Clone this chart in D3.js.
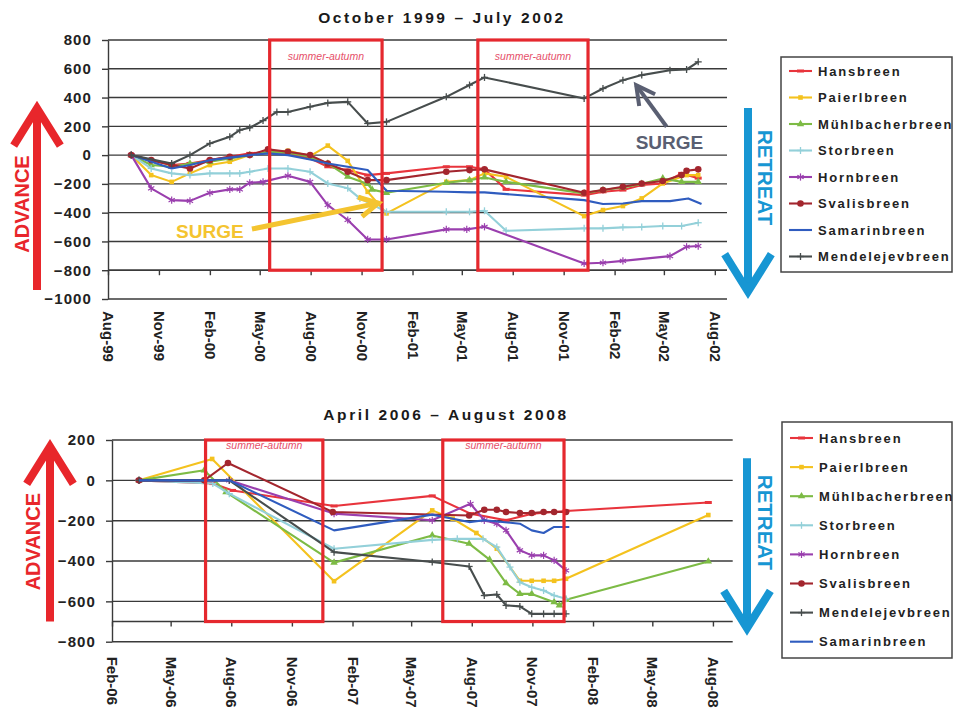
<!DOCTYPE html>
<html>
<head>
<meta charset="utf-8">
<script src="https://cdn.jsdelivr.net/npm/d3@7"></script>
<style>
body { margin: 0; background: #fff; }
svg { display: block; font-family: "Liberation Sans", Arial, sans-serif; }
</style>
</head>
<body>
<svg id="chart" width="955" height="710"></svg>
<script>
let parseDay = d3.timeParse("%Y-%m-%d");
let parseTick = d3.timeParse("%b-%y");

// ---- October 1999 - July 2002 ----
const hans99 = [["1999-09-12",0],["1999-10-18",-35],["1999-11-24",-69],["1999-12-27",-58],["2000-02-01",-35],["2000-03-08",-12],["2000-04-13",12],["2000-05-16",23],["2000-06-21",12],["2000-07-31",-23],["2000-09-01",-81],["2000-10-07",-104],["2000-11-12",-139],["2000-12-16",-127],["2001-04-03",-81],["2001-05-15",-81],["2001-06-11",-99],["2001-07-20",-238],["2001-12-08",-278],["2002-01-11",-255],["2002-02-16",-243],["2002-03-22",-208],["2002-04-29",-197],["2002-06-02",-127],["2002-07-02",-160]];
const paier99 = [["1999-09-12",0],["1999-10-18",-139],["1999-11-24",-186],["1999-12-27",-127],["2000-02-01",-69],["2000-03-08",-46],["2000-04-13",0],["2000-05-16",23],["2000-06-21",30],["2000-07-31",-7],["2000-09-01",66],["2000-10-07",-40],["2000-11-12",-255],["2000-12-16",-405],["2001-04-03",-186],["2001-05-15",-174],["2001-06-11",-127],["2001-07-20",-151],["2001-12-08",-424],["2002-01-11",-382],["2002-02-16",-354],["2002-03-22",-301],["2002-04-29",-197],["2002-06-11",-139],["2002-07-02",-139]];
const muhl99 = [["1999-09-12",0],["1999-10-18",-69],["1999-11-24",-81],["1999-12-27",-58],["2000-02-01",-46],["2000-03-08",-23],["2000-04-13",0],["2000-05-16",23],["2000-06-21",16],["2000-07-31",-12],["2000-09-01",-58],["2000-10-07",-150],["2000-11-12",-200],["2000-11-20",-240],["2000-12-16",-262],["2001-04-03",-192],["2001-05-15",-174],["2001-06-11",-155],["2001-07-20",-186],["2001-12-08",-266],["2002-01-11",-243],["2002-02-16",-225],["2002-03-22",-200],["2002-04-29",-162],["2002-06-02",-186],["2002-07-02",-186]];
const stor99 = [["1999-09-12",0],["1999-10-18",-93],["1999-11-24",-127],["1999-12-27",-139],["2000-02-01",-127],["2000-03-08",-127],["2000-03-26",-127],["2000-04-13",-116],["2000-05-16",-93],["2000-06-21",-93],["2000-07-31",-116],["2000-09-01",-197],["2000-10-07",-231],["2000-10-29",-301],["2000-12-16",-394],["2001-04-03",-394],["2001-05-15",-394],["2001-06-11",-387],["2001-07-20",-526],["2001-12-08",-509],["2002-01-11",-509],["2002-02-16",-502],["2002-03-22",-500],["2002-04-29",-493],["2002-06-02",-493],["2002-07-02",-470]];
const horn99 = [["1999-09-12",0],["1999-10-18",-231],["1999-11-24",-313],["1999-12-27",-318],["2000-02-01",-262],["2000-03-08",-238],["2000-03-26",-238],["2000-04-13",-192],["2000-05-07",-186],["2000-06-21",-144],["2000-07-31",-186],["2000-09-01",-347],["2000-10-07",-451],["2000-11-12",-586],["2000-12-16",-586],["2001-04-03",-516],["2001-05-10",-516],["2001-06-11",-498],["2001-12-08",-753],["2002-01-11",-748],["2002-02-16",-735],["2002-05-12",-702],["2002-06-11",-637],["2002-07-02",-632]];
const sval99 = [["1999-09-12",0],["1999-10-18",-35],["1999-11-24",-69],["1999-12-27",-93],["2000-02-01",-35],["2000-03-08",-12],["2000-04-13",0],["2000-05-16",40],["2000-06-21",23],["2000-07-31",0],["2000-09-01",-58],["2000-10-07",-116],["2000-11-12",-174],["2000-12-16",-174],["2001-04-03",-116],["2001-05-15",-104],["2001-06-11",-99],["2001-12-08",-262],["2002-01-11",-243],["2002-02-16",-220],["2002-03-22",-197],["2002-04-29",-180],["2002-06-02",-139],["2002-06-11",-109],["2002-07-02",-99]];
const samar99 = [["1999-09-12",0],["1999-11-24",-93],["1999-12-27",-69],["2000-02-01",-35],["2000-04-13",0],["2000-05-16",12],["2000-06-21",0],["2000-07-31",-30],["2000-09-01",-58],["2000-10-07",-81],["2000-11-12",-104],["2000-12-16",-248],["2001-04-03",-255],["2001-05-15",-259],["2001-06-11",-259],["2001-12-08",-313],["2002-01-11",-340],["2002-02-16",-336],["2002-03-22",-320],["2002-05-12",-320],["2002-06-14",-301],["2002-07-08",-340]];
const mend99 = [["1999-09-12",0],["1999-11-24",-58],["1999-12-27",0],["2000-02-01",81],["2000-03-08",127],["2000-03-26",174],["2000-04-13",190],["2000-05-07",240],["2000-06-01",300],["2000-06-21",300],["2000-07-31",336],["2000-09-01",363],["2000-10-07",370],["2000-11-12",220],["2000-12-16",231],["2001-04-03",405],["2001-05-15",487],["2001-06-11",540],["2001-12-08",394],["2002-01-11",463],["2002-02-16",521],["2002-03-22",556],["2002-05-12",590],["2002-06-11",595],["2002-07-02",648]];

const names99 = ["Hansbreen","Paierlbreen","Mühlbacherbreen","Storbreen","Hornbreen","Svalisbreen","Samarinbreen","Mendelejevbreen"];
const series99 = [hans99, paier99, muhl99, stor99, horn99, sval99, samar99, mend99];
const ticks99 = ["Aug-99","Nov-99","Feb-00","May-00","Aug-00","Nov-00","Feb-01","May-01","Aug-01","Nov-01","Feb-02","May-02","Aug-02"];
const yTicks99 = [800, 600, 400, 200, 0, -200, -400, -600, -800, -1000];
const seasons99 = [["2000-05-19","2000-12-08"], ["2001-05-30","2001-12-15"]];

// ---- April 2006 - August 2008 ----
const hans06 = [["2006-03-14",0],["2006-07-04",-16],["2006-08-03",-50],["2007-01-04",-127],["2007-06-02",-77],["2007-07-30",-165],["2007-09-22",-198],["2007-11-01",-165],["2007-12-22",-152],["2008-07-25",-110]];
const paier06 = [["2006-03-14",0],["2006-07-03",106],["2007-01-04",-500],["2007-06-02",-149],["2007-07-03",-190],["2007-08-08",-261],["2007-09-08",-339],["2007-10-13",-498],["2007-10-31",-498],["2007-11-18",-498],["2007-12-04",-498],["2007-12-22",-488],["2008-07-25",-172]];
const muhl06 = [["2006-03-14",0],["2006-06-21",50],["2006-07-24",-58],["2007-01-04",-408],["2007-06-02",-273],["2007-07-28",-314],["2007-08-28",-393],["2007-09-22",-510],["2007-10-13",-563],["2007-10-31",-563],["2007-12-04",-604],["2007-12-12",-620],["2007-12-22",-592],["2008-07-25",-402]];
const stor06 = [["2006-03-14",0],["2006-07-04",-16],["2006-07-29",-66],["2007-01-04",-339],["2007-06-02",-295],["2007-07-10",-290],["2007-08-18",-290],["2007-09-08",-331],["2007-09-28",-430],["2007-10-13",-505],["2007-10-31",-530],["2007-11-18",-546],["2007-12-04",-571],["2007-12-22",-587]];
const horn06 = [["2006-03-14",0],["2006-07-29",0],["2007-01-04",-165],["2007-06-02",-198],["2007-07-30",-116],["2007-08-20",-198],["2007-09-08",-215],["2007-09-22",-248],["2007-10-13",-347],["2007-10-31",-372],["2007-11-18",-372],["2007-12-04",-397],["2007-12-22",-447]];
const sval06 = [["2006-03-14",0],["2006-06-21",0],["2006-07-27",86],["2007-01-02",-157],["2007-07-28",-174],["2007-08-20",-146],["2007-09-08",-146],["2007-09-22",-157],["2007-10-13",-162],["2007-10-31",-162],["2007-11-18",-157],["2007-12-04",-157],["2007-12-22",-157]];
const mend06 = [["2006-03-14",0],["2006-07-29",0],["2007-01-04",-356],["2007-06-02",-405],["2007-07-28",-427],["2007-08-20",-571],["2007-09-08",-566],["2007-09-22",-620],["2007-10-13",-625],["2007-10-31",-662],["2007-11-18",-662],["2007-12-04",-662],["2007-12-22",-662]];
const samar06 = [["2006-03-14",0],["2006-07-29",0],["2007-01-04",-248],["2007-06-02",-170],["2007-07-28",-207],["2007-08-20",-198],["2007-10-13",-215],["2007-10-31",-248],["2007-11-18",-261],["2007-12-04",-231],["2007-12-27",-231]];

const names06 = ["Hansbreen","Paierlbreen","Mühlbacherbreen","Storbreen","Hornbreen","Svalisbreen","Mendelejevbreen","Samarinbreen"];
const series06 = [hans06, paier06, muhl06, stor06, horn06, sval06, mend06, samar06];
const ticks06 = ["Feb-06","May-06","Aug-06","Nov-06","Feb-07","May-07","Aug-07","Nov-07","Feb-08","May-08","Aug-08"];
const yTicks06 = [200, 0, -200, -400, -600, -800];
const seasons06 = [["2006-06-23","2006-12-18"], ["2007-06-18","2007-12-19"]];

// styles
const colours = {
    "Hansbreen": "#e8343c",
    "Paierlbreen": "#f4c21e",
    "Mühlbacherbreen": "#7dbb45",
    "Storbreen": "#93d0d9",
    "Hornbreen": "#9a3fae",
    "Svalisbreen": "#a3262e",
    "Samarinbreen": "#2f5cbf",
    "Mendelejevbreen": "#474d4d"
};
const markers = {
    "Hansbreen": "dash",
    "Paierlbreen": "square",
    "Mühlbacherbreen": "triangle",
    "Storbreen": "plus",
    "Hornbreen": "star",
    "Svalisbreen": "circle",
    "Samarinbreen": "none",
    "Mendelejevbreen": "plus"
};
let boxColour = '#e5282e';
let gridColour = '#3a3a3a';

function drawMarker(g, type, cx, cy, colour) {
    if (type == "circle") {
        g.append("circle").attr("cx", cx).attr("cy", cy).attr("r", 3.3).attr("fill", colour);
    } else if (type == "square") {
        g.append("rect").attr("x", cx - 2.3).attr("y", cy - 2.3)
            .attr("width", 4.6).attr("height", 4.6).attr("fill", colour);
    } else if (type == "triangle") {
        g.append("path").attr("transform", `translate(${cx},${cy})`)
            .attr("d", d3.symbol(d3.symbolTriangle, 24)()).attr("fill", colour);
    } else if (type == "dash") {
        g.append("line").attr("x1", cx - 3.5).attr("x2", cx + 3.5).attr("y1", cy).attr("y2", cy)
            .attr("stroke", colour).attr("stroke-width", 3);
    } else if (type == "plus") {
        g.append("line").attr("x1", cx).attr("x2", cx).attr("y1", cy - 3.5).attr("y2", cy + 3.5)
            .attr("stroke", colour).attr("stroke-width", 1.3);
        g.append("line").attr("x1", cx - 3.5).attr("x2", cx + 3.5).attr("y1", cy).attr("y2", cy)
            .attr("stroke", colour).attr("stroke-width", 1.3);
    } else if (type == "star") {
        let r = 3.6;
        [[0, r], [r * 0.87, r * 0.5], [r * 0.87, -r * 0.5]].forEach(function(p) {
            g.append("line").attr("x1", cx - p[0]).attr("x2", cx + p[0])
                .attr("y1", cy - p[1]).attr("y2", cy + p[1])
                .attr("stroke", colour).attr("stroke-width", 1.2);
        });
    }
}

// open chevron arrow from (x1,y1) to (x2,y2)
function drawArrow(svg, x1, y1, x2, y2, colour, width, headLen, headAngle) {
    let g = svg.append("g");
    g.append("line").attr("x1", x1).attr("y1", y1).attr("x2", x2).attr("y2", y2)
        .attr("stroke", colour).attr("stroke-width", width);
    let ang = Math.atan2(y1 - y2, x1 - x2);
    let a = headAngle * Math.PI / 180;
    let p1 = [x2 + headLen * Math.cos(ang + a), y2 + headLen * Math.sin(ang + a)];
    let p2 = [x2 + headLen * Math.cos(ang - a), y2 + headLen * Math.sin(ang - a)];
    g.append("path").attr("d", `M${p1[0]},${p1[1]}L${x2},${y2}L${p2[0]},${p2[1]}`)
        .attr("fill", "none").attr("stroke", colour).attr("stroke-width", width)
        .attr("stroke-linejoin", "miter").attr("stroke-miterlimit", 10);
}

function drawChart(o) {
    let svg = d3.select("#chart");

    let x = d3.scaleTime()
        .domain(o.xDomain.map(parseDay))
        .range([o.left, o.right]);
    let y = d3.scaleLinear()
        .domain(o.yDomain)
        .range([o.bottom, o.top]);

    //title
    svg.append("text")
        .attr("x", o.titleX).attr("y", o.titleY)
        .attr("text-anchor", "middle")
        .attr("font-size", 15.5).attr("font-weight", "bold")
        .attr("letter-spacing", 2.6).attr("fill", "#1a1a1a")
        .text(o.title);

    //horizontal grid
    svg.append("g").selectAll("line")
        .data(o.yTicks.concat([o.axisAt]))
        .enter().append("line")
        .attr("x1", o.left).attr("x2", o.right)
        .attr("y1", d => y(d)).attr("y2", d => y(d))
        .attr("stroke", gridColour).attr("stroke-width", 1.4);

    //y axis
    let yAxis = svg.append("g")
        .attr("transform", `translate(${o.left},0)`)
        .call(d3.axisLeft(y).tickValues(o.yTicks).tickFormat(d3.format("d"))
            .tickSize(6).tickSizeOuter(0).tickPadding(10));
    yAxis.selectAll("path, line").attr("stroke", gridColour).attr("stroke-width", 1.4);
    yAxis.selectAll("text")
        .attr("font-size", 15).attr("font-weight", "bold")
        .attr("font-family", "Liberation Sans, Arial, sans-serif")
        .attr("letter-spacing", 1.1).attr("fill", "#222");

    //x axis tick marks on the crossing line
    let tickDates = o.ticks.map(parseTick);
    let xAxis = svg.append("g")
        .attr("transform", `translate(0,${y(o.axisAt)})`)
        .call(d3.axisBottom(x).tickValues(tickDates).tickSize(5).tickSizeOuter(0).tickFormat(""));
    xAxis.select(".domain").remove();
    xAxis.selectAll("line").attr("stroke", gridColour).attr("stroke-width", 1.4);

    //x labels, low position
    let xLabels = svg.append("g")
        .attr("transform", `translate(0,${y(o.yDomain[0])})`)
        .call(d3.axisBottom(x).tickValues(tickDates).tickSize(0)
            .tickFormat((d, i) => o.ticks[i]));
    xLabels.select(".domain").remove();
    xLabels.selectAll("text")
        .attr("transform", "rotate(90)")
        .attr("x", o.labelGap).attr("y", 0).attr("dy", "0.36em")
        .attr("text-anchor", "start")
        .attr("font-size", 15).attr("font-weight", "bold")
        .attr("font-family", "Liberation Sans, Arial, sans-serif")
        .attr("fill", "#222");

    //lines and markers
    let line = d3.line()
        .x(d => x(parseDay(d[0])))
        .y(d => y(d[1]));
    for (let i = 0; i < o.series.length; i++) {
        let name = o.names[i];
        let g = svg.append("g");
        g.append("path")
            .datum(o.series[i])
            .attr("d", line)
            .attr("fill", "none")
            .attr("stroke", colours[name])
            .attr("stroke-width", 2.1)
            .attr("stroke-linejoin", "round");
        o.series[i].forEach(function(d) {
            drawMarker(g, markers[name], x(parseDay(d[0])), y(d[1]), colours[name]);
        });
    }

    //summer-autumn boxes
    o.seasons.forEach(function(s) {
        let x0 = x(parseDay(s[0]));
        let x1 = x(parseDay(s[1]));
        svg.append("rect")
            .attr("x", x0).attr("y", y(o.yDomain[1]))
            .attr("width", x1 - x0).attr("height", y(o.axisAt) - y(o.yDomain[1]))
            .attr("fill", "none").attr("stroke", boxColour).attr("stroke-width", 3.2);
        svg.append("text")
            .attr("x", (x0 + x1) / 2).attr("y", y(o.yDomain[1]) + o.seasonLabelDy)
            .attr("text-anchor", "middle")
            .attr("font-size", 10.5).attr("font-style", "italic")
            .attr("fill", "#e6506a")
            .text("summer-autumn");
    });

    //advance / retreat arrows
    let adv = o.advance;
    drawArrow(svg, adv.x, y(adv.from), adv.x, y(adv.to), '#e8262b', 8, 44, 32);
    svg.append("text")
        .attr("transform", `translate(${adv.x + adv.textDx},${y(adv.textAt)}) rotate(-90)`)
        .attr("text-anchor", "middle").attr("dy", "0.36em")
        .attr("font-size", 20).attr("font-weight", "bold").attr("fill", '#e8262b')
        .text("ADVANCE");
    let ret = o.retreat;
    drawArrow(svg, ret.x, y(ret.from), ret.x, y(ret.to), '#1796d3', 8, 44, 32);
    svg.append("text")
        .attr("transform", `translate(${ret.x + ret.textDx},${y(ret.textAt)}) rotate(90)`)
        .attr("text-anchor", "middle").attr("dy", "0.36em")
        .attr("font-size", 20.5).attr("font-weight", "bold").attr("fill", '#1796d3')
        .text("RETREAT");

    //surge notes
    o.surges.forEach(function(s) {
        svg.append("text")
            .attr("x", x(parseDay(s.text[0]))).attr("y", y(s.text[1]))
            .attr("text-anchor", "middle").attr("dy", "0.36em")
            .attr("font-size", 19).attr("font-weight", "bold").attr("fill", s.colour)
            .text("SURGE");
        drawArrow(svg, x(parseDay(s.from[0])), y(s.from[1]), x(parseDay(s.to[0])), y(s.to[1]),
            s.colour, s.width, 21, 28);
    });

    //legend
    let lg = o.legend;
    svg.append("rect")
        .attr("x", lg.x).attr("y", lg.y).attr("width", lg.w).attr("height", lg.h)
        .attr("fill", "white").attr("stroke", "#444").attr("stroke-width", 1.5);
    for (let i = 0; i < o.names.length; i++) {
        let name = o.names[i];
        let ly = lg.firstY + i * lg.step;
        let g = svg.append("g");
        g.append("line")
            .attr("x1", lg.x + 8).attr("x2", lg.x + 31)
            .attr("y1", ly).attr("y2", ly)
            .attr("stroke", colours[name]).attr("stroke-width", 2.1);
        drawMarker(g, markers[name], lg.x + 19.5, ly, colours[name]);
        g.append("text")
            .attr("x", lg.x + 37).attr("y", ly).attr("dy", "0.36em")
            .attr("font-size", 13).attr("font-weight", "bold")
            .attr("letter-spacing", 1.8).attr("fill", "#222")
            .text(name);
    }
}

drawChart({
    title: "October 1999 – July 2002",
    titleX: 442, titleY: 23,
    left: 108, right: 727, top: 40, bottom: 299,
    xDomain: ["1999-08-01", "2002-08-23"],
    yDomain: [-1000, 800],
    yTicks: yTicks99,
    axisAt: -800,
    ticks: ticks99,
    labelGap: 12,
    names: names99,
    series: series99,
    seasons: seasons99,
    seasonLabelDy: 20,
    advance: {x: 37, from: -937, to: 326, textDx: -15, textAt: -340},
    retreat: {x: 748, from: 327, to: -948, textDx: 17, textAt: -156},
    surges: [
        {text: ["2000-02-01", -528], from: ["2000-04-17", -514], to: ["2000-12-01", -334], colour: "#f4c430", width: 5},
        {text: ["2002-05-11", 90], from: ["2002-05-06", 197], to: ["2002-03-12", 486], colour: "#5a5f72", width: 4}
    ],
    legend: {x: 781, y: 57, w: 171, h: 215, firstY: 71, step: 26.5}
});

drawChart({
    title: "April 2006 – August 2008",
    titleX: 446, titleY: 420,
    left: 112, right: 732.7, top: 440, bottom: 641.7,
    xDomain: ["2006-02-01", "2008-08-31"],
    yDomain: [-800, 200],
    yTicks: yTicks06,
    axisAt: -700,
    ticks: ticks06,
    labelGap: 15,
    names: names06,
    series: series06,
    seasons: seasons06,
    seasonLabelDy: 9,
    advance: {x: 50, from: -700, to: 167, textDx: -17, textAt: -304},
    retreat: {x: 747, from: 109, to: -733, textDx: 18, textAt: -209},
    surges: [],
    legend: {x: 782, y: 422, w: 170, h: 236, firstY: 438, step: 29.1}
});
</script>
</body>
</html>
